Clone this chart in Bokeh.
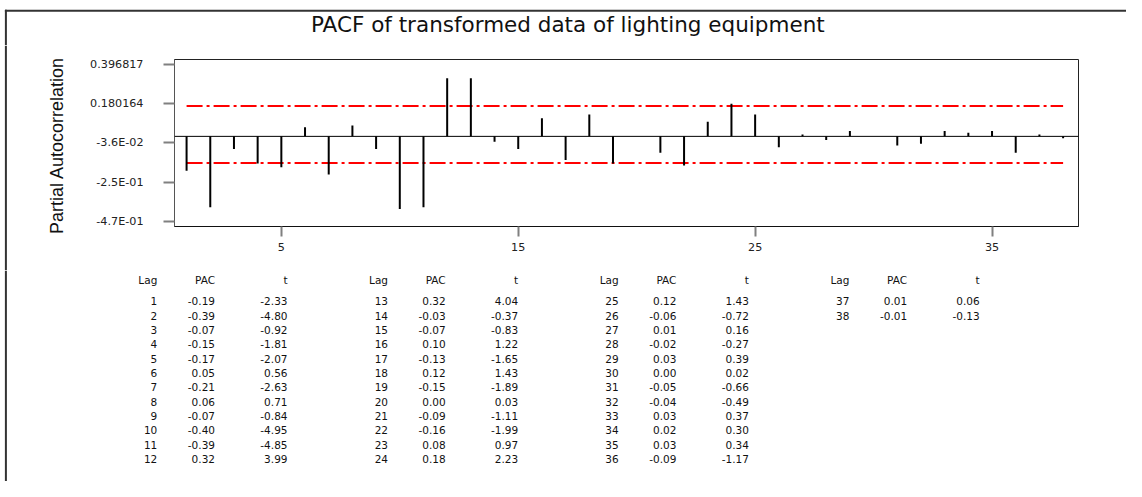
import math
from bokeh.plotting import figure
from bokeh.models import Range1d, FixedTicker, Span
from bokeh.layouts import column, row
from bokeh.embed import file_html
from bokeh.resources import INLINE
from bokeh.core.properties import value

# ---------------- data ----------------
title_text = "PACF of transformed data of lighting equipment"
y_axis_label = "Partial Autocorrelation"
lags = list(range(1, 39))
pac = [-0.19, -0.39, -0.07, -0.15, -0.17, 0.05, -0.21, 0.06, -0.07, -0.40, -0.39, 0.32,
       0.32, -0.03, -0.07, 0.10, -0.13, 0.12, -0.15, 0.00, -0.09, -0.16, 0.08, 0.18,
       0.12, -0.06, 0.01, -0.02, 0.03, 0.00, -0.05, -0.04, 0.03, 0.02, 0.03, -0.09,
       0.01, -0.01]
t_stat = [-2.33, -4.80, -0.92, -1.81, -2.07, 0.56, -2.63, 0.71, -0.84, -4.95, -4.85, 3.99,
          4.04, -0.37, -0.83, 1.22, -1.65, 1.43, -1.89, 0.03, -1.11, -1.99, 0.97, 2.23,
          1.43, -0.72, 0.16, -0.27, 0.39, 0.02, -0.66, -0.49, 0.37, 0.30, 0.34, -1.17,
          0.06, -0.13]
upper_limit = 0.168
lower_limit = -0.147
y_tick_values = [0.396817, 0.180164, -0.036489, -0.253142, -0.469795]
y_tick_labels = ["0.396817", "0.180164", "-3.6E-02", "-2.5E-01", "-4.7E-01"]
x_tick_values = [5, 15, 25, 35]
table_headers = ["Lag", "PAC", "t"]
rows_per_block = 12

# ---------------- layout constants ----------------
W = 1126
HT = 45      # title strip
HA = 225     # plot row
HB = 211     # table
SW = 80      # strip left of the plot (holds axis title)
FONT = "DejaVu Sans"
BORDER = "#333333"
BX = 5.4     # outer left border position


def blank(w, h):
    f = figure(width=w, height=h, output_backend="svg", toolbar_location=None,
               x_range=Range1d(0, w), y_range=Range1d(h, 0), min_border=0,
               background_fill_color="white", border_fill_color="white",
               frame_align=False)
    f.axis.visible = False
    f.grid.visible = False
    f.outline_line_color = None
    return f


# ---------------- title strip ----------------
tt = blank(W, HT)
tt.segment(x0=[BX - 1], y0=[10.2], x1=[W], y1=[10.2], line_color=BORDER, line_width=2)
tt.segment(x0=[BX], y0=[9.2], x1=[BX], y1=[HT], line_color=BORDER, line_width=2)
tt.text(x=[310.5], y=[23.9], text=[title_text], text_align="left",
        text_baseline="alphabetic", text_font=value(FONT), text_font_size="21.5px",
        text_color="#111111")

# ---------------- axis title strip ----------------
st = blank(SW, HA)
st.segment(x0=[BX], y0=[0], x1=[BX], y1=[HA], line_color=BORDER, line_width=2)
st.text(x=[56.0], y=[100], text=[y_axis_label], angle=math.pi / 2,
        text_align="center", text_baseline="alphabetic",
        text_font=value("Liberation Sans"), text_font_size="18px", text_color="#111111")

# ---------------- plot ----------------
p = figure(width=W - SW, height=HA, output_backend="svg", toolbar_location=None,
           x_range=Range1d(0.49, 38.65), y_range=Range1d(-0.4965, 0.4235),
           min_border_left=94, min_border_right=48, min_border_top=14, min_border_bottom=44,
           background_fill_color="white", border_fill_color="white", frame_align=False)
p.grid.visible = False
p.outline_line_color = "#222222"
p.outline_line_width = 1

p.xaxis.ticker = FixedTicker(ticks=x_tick_values)
p.xaxis.major_tick_out = 10
p.xaxis.major_tick_in = 0
p.xaxis.minor_tick_out = 0
p.xaxis.minor_tick_in = 0
p.xaxis.major_tick_line_color = "#808080"
p.xaxis.major_tick_line_width = 2
p.xaxis.axis_line_color = "#111111"
p.xaxis.major_label_text_font = FONT
p.xaxis.major_label_text_font_size = "11.2px"
p.xaxis.major_label_text_color = "#222222"
p.xaxis.major_label_standoff = 6

p.yaxis.ticker = FixedTicker(ticks=y_tick_values)
p.yaxis.major_label_overrides = {v: s for v, s in zip(y_tick_values, y_tick_labels)}
p.yaxis.major_tick_out = 11
p.yaxis.major_tick_in = 0
p.yaxis.minor_tick_out = 0
p.yaxis.minor_tick_in = 0
p.yaxis.major_tick_line_color = "#808080"
p.yaxis.major_tick_line_width = 2
p.yaxis.axis_line_color = "#555555"
p.yaxis.major_label_text_font = FONT
p.yaxis.major_label_text_font_size = "11.2px"
p.yaxis.major_label_text_color = "#222222"
p.yaxis.major_label_standoff = 20

# zero line
p.add_layout(Span(location=0, dimension="width", line_color="black", line_width=1))

# confidence limits
p.line(x=[lags[0], lags[-1]], y=[upper_limit, upper_limit], line_color="red",
       line_width=2, line_dash="16 4 3 4")
p.line(x=[lags[0], lags[-1]], y=[lower_limit, lower_limit], line_color="red",
       line_width=2, line_dash="16 4 3 4")

# PACF bars
p.segment(x0=lags, y0=[0] * len(lags), x1=lags, y1=pac, line_color="black", line_width=2)

# ---------------- table ----------------
tb = blank(W, HB)
tb.segment(x0=[BX], y0=[0], x1=[BX], y1=[HB], line_color=BORDER, line_width=2)
block_x0 = 156.8
block_dx = 230.7
col_offsets = [0.0, 57.7, 130.2]
header_y = 9.5
row_y0 = 30.8
row_dy = 14.34

n_blocks = (len(lags) + rows_per_block - 1) // rows_per_block
hx, hy, htxt = [], [], []
for b in range(n_blocks):
    for c, h in enumerate(table_headers):
        hx.append(block_x0 + b * block_dx + col_offsets[c])
        hy.append(header_y)
        htxt.append(h)

cx, cy, ctxt = [], [], []
for i, (lg, pv, tv) in enumerate(zip(lags, pac, t_stat)):
    b, r = divmod(i, rows_per_block)
    for c, s in enumerate([str(lg), f"{pv:.2f}", f"{tv:.2f}"]):
        cx.append(block_x0 + b * block_dx + col_offsets[c])
        cy.append(row_y0 + r * row_dy)
        ctxt.append(s)

tb.text(x=hx + cx, y=hy + cy, text=htxt + ctxt, text_align="right",
        text_baseline="alphabetic", text_font=value(FONT), text_font_size="10.5px",
        text_color="#111111")

layout = column(tt, row(st, p, spacing=0), tb, spacing=0)

open("out.html", "w").write(file_html(layout, INLINE))
